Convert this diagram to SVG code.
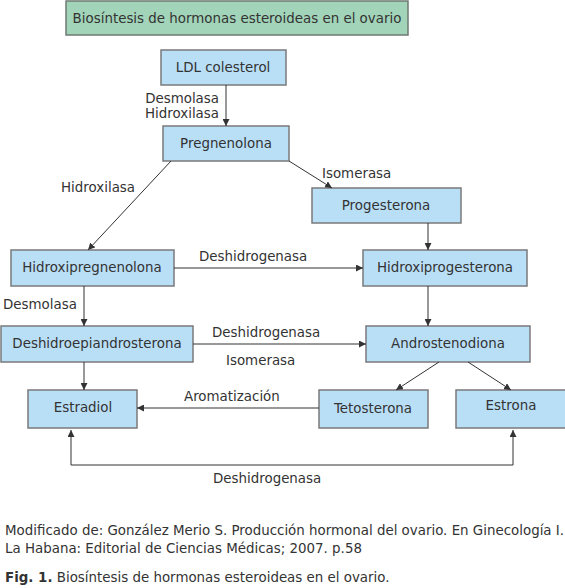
<svg xmlns="http://www.w3.org/2000/svg" width="565" height="588" viewBox="0 0 565 588">
<defs>
<marker id="ah" viewBox="0 0 10 10" refX="10" refY="5" markerWidth="7" markerHeight="7" markerUnits="userSpaceOnUse" orient="auto">
<path d="M0,0 L10,5 L0,10 z" fill="#333"/>
</marker>
<style>
.n{fill:#b9dff7;stroke:#7a7a7a;stroke-width:1.5}
.t{fill:#a2d4b9;stroke:#6e7a72;stroke-width:1.5}
text{font-family:"DejaVu Sans",Verdana,sans-serif;font-size:13.4px;fill:#333}
.c{text-anchor:middle}
.e{fill:none;stroke:#333;stroke-width:1;marker-end:url(#ah)}
</style>
</defs>
<rect width="565" height="588" fill="#fff"/>
<g id="title"><rect class="t" x="66" y="1" width="342" height="34"/><text class="c" x="237" y="23">Biosíntesis de hormonas esteroideas en el ovario</text></g>
<g id="ldl"><rect class="n" x="161" y="50" width="125" height="35"/><text class="c" x="223" y="72">LDL colesterol</text></g>
<g id="pregnenolona"><rect class="n" x="163" y="126" width="126" height="35"/><text class="c" x="226" y="148">Pregnenolona</text></g>
<g id="progesterona"><rect class="n" x="312" y="188" width="149" height="35"/><text class="c" x="386" y="210">Progesterona</text></g>
<g id="hidroxipregnenolona"><rect class="n" x="11" y="250" width="163" height="36"/><text class="c" x="92" y="272">Hidroxipregnenolona</text></g>
<g id="hidroxiprogesterona"><rect class="n" x="363" y="250" width="164" height="36"/><text class="c" x="445" y="272">Hidroxiprogesterona</text></g>
<g id="dhea"><rect class="n" x="1" y="326" width="192" height="36"/><text class="c" x="97" y="348">Deshidroepiandrosterona</text></g>
<g id="androstenodiona"><rect class="n" x="366" y="326" width="164" height="36"/><text class="c" x="448" y="348">Androstenodiona</text></g>
<g id="estradiol"><rect class="n" x="28" y="390" width="109" height="38"/><text class="c" x="83" y="412">Estradiol</text></g>
<g id="tetosterona"><rect class="n" x="319" y="390" width="109" height="38"/><text class="c" x="373" y="413">Tetosterona</text></g>
<g id="estrona"><rect class="n" x="456" y="390" width="112" height="38"/><text class="c" x="511" y="410">Estrona</text></g>
<g id="connectors">
<line class="e" x1="226" y1="85" x2="226" y2="126"/>
<line class="e" x1="171" y1="161" x2="88" y2="250"/>
<line class="e" x1="289" y1="161" x2="332" y2="188"/>
<line class="e" x1="428" y1="223" x2="428" y2="250"/>
<line class="e" x1="174" y1="268" x2="363" y2="268"/>
<line class="e" x1="84" y1="286" x2="84" y2="326"/>
<line class="e" x1="428" y1="286" x2="428" y2="326"/>
<line class="e" x1="193" y1="344" x2="366" y2="344"/>
<line class="e" x1="84" y1="362" x2="84" y2="390"/>
<line class="e" x1="439" y1="362" x2="396" y2="390"/>
<line class="e" x1="468" y1="362" x2="511" y2="390"/>
<line class="e" x1="319" y1="408" x2="137" y2="408"/>
<polyline class="e" points="513,465 71,465 71,430"/>
<line class="e" x1="513" y1="465" x2="513" y2="430"/>
</g>
<g id="labels">
<text x="219" y="103" text-anchor="end">Desmolasa</text>
<text x="219" y="118" text-anchor="end">Hidroxilasa</text>
<text x="322" y="178">Isomerasa</text>
<text x="61" y="192">Hidroxilasa</text>
<text x="199" y="261">Deshidrogenasa</text>
<text x="3" y="309">Desmolasa</text>
<text x="212" y="337">Deshidrogenasa</text>
<text x="226" y="365">Isomerasa</text>
<text x="184" y="401">Aromatización</text>
<text x="213" y="483">Deshidrogenasa</text>
</g>
<g id="footer">
<text x="5" y="535">Modificado de: González Merio S. Producción hormonal del ovario. En Ginecología I.</text>
<text x="5" y="553">La Habana: Editorial de Ciencias Médicas; 2007. p.58</text>
<text x="5" y="582"><tspan font-weight="bold">Fig. 1.</tspan> Biosíntesis de hormonas esteroideas en el ovario.</text>
</g>
</svg>
